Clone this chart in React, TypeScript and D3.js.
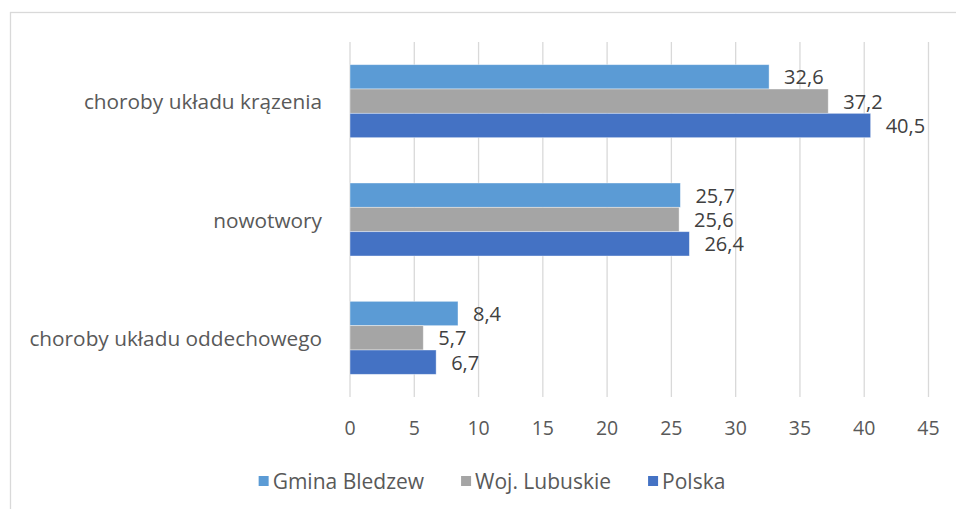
import { useEffect, useRef } from "react";
import { scaleBand, scaleLinear, select } from "d3";

const categories = ["choroby układu krązenia", "nowotwory", "choroby układu oddechowego"];
const seriesNames = ["Gmina Bledzew", "Woj. Lubuskie", "Polska"];
const gminaValues = [32.6, 25.7, 8.4];
const lubuskieValues = [37.2, 25.6, 5.7];
const polskaValues = [40.5, 26.4, 6.7];
const xTicks = [0, 5, 10, 15, 20, 25, 30, 35, 40, 45];

const COLORS = ["#5B9BD5", "#A5A5A5", "#4472C4"];
const TEXT = "#595959";
const GRID = "#D9D9D9";
const FONT = "'Open Sans', sans-serif";

const W = 956;
const H = 509;

export default function App() {
  const svgRef = useRef<SVGSVGElement | null>(null);

  useEffect(() => {
    const svg = select(svgRef.current);
    svg.selectAll("*").remove();

    const series = [gminaValues, lubuskieValues, polskaValues];

    const x = scaleLinear().domain([0, 45]).range([350, 928.5]);
    const y = scaleBand<string>()
      .domain(categories)
      .range([42, 397])
      .paddingInner(0.383)
      .paddingOuter(0.1915);
    const inner = scaleBand<number>()
      .domain([0, 1, 2])
      .range([0, y.bandwidth()]);

    // chart frame
    svg
      .append("rect")
      .attr("x", 10.5)
      .attr("y", 12.5)
      .attr("width", 980)
      .attr("height", 540)
      .attr("fill", "none")
      .attr("stroke", GRID)
      .attr("stroke-width", 1.3);

    // gridlines
    svg
      .append("g")
      .selectAll("line")
      .data(xTicks)
      .join("line")
      .attr("x1", (d) => x(d))
      .attr("x2", (d) => x(d))
      .attr("y1", 42)
      .attr("y2", 397)
      .attr("stroke", GRID)
      .attr("stroke-width", 1.3);

    // tick labels
    svg
      .append("g")
      .selectAll("text")
      .data(xTicks)
      .join("text")
      .attr("x", (d) => x(d))
      .attr("y", 427)
      .attr("text-anchor", "middle")
      .attr("dominant-baseline", "central")
      .attr("font-family", FONT)
      .attr("font-size", 19.5)
      .attr("fill", TEXT)
      .text((d) => d);

    // category labels
    svg
      .append("g")
      .selectAll("text")
      .data(categories)
      .join("text")
      .attr("x", 322)
      .attr("y", (d) => (y(d) ?? 0) + y.bandwidth() / 2)
      .attr("text-anchor", "end")
      .attr("dominant-baseline", "central")
      .attr("font-family", FONT)
      .attr("font-size", 20.8)
      .attr("fill", TEXT)
      .text((d) => d);

    // bars + labels
    series.forEach((values, si) => {
      const g = svg.append("g");
      g.selectAll("rect")
        .data(values)
        .join("rect")
        .attr("x", x(0))
        .attr("y", (_, i) => (y(categories[i]) ?? 0) + (inner(si) ?? 0))
        .attr("width", (d) => x(d) - x(0))
        .attr("height", inner.bandwidth())
        .attr("fill", COLORS[si])
        .attr("stroke", "#ffffff")
        .attr("stroke-opacity", 0.5)
        .attr("stroke-width", 0.8);

      g.selectAll("text")
        .data(values)
        .join("text")
        .attr("x", (d) => x(d) + 15)
        .attr("y", (_, i) => (y(categories[i]) ?? 0) + (inner(si) ?? 0) + inner.bandwidth() / 2)
        .attr("dominant-baseline", "central")
        .attr("font-family", FONT)
        .attr("font-size", 20)
        .attr("fill", "#404040")
        .text((d) => String(d).replace(".", ","));
    });

    // legend, centred
    const legend = svg.append("g");
    const items = seriesNames.map((name, i) => {
      const item = legend.append("g");
      item
        .append("rect")
        .attr("x", 0)
        .attr("y", -5)
        .attr("width", 10)
        .attr("height", 10)
        .attr("fill", COLORS[i]);
      const t = item
        .append("text")
        .attr("x", 14)
        .attr("y", 0)
        .attr("dominant-baseline", "central")
        .attr("font-family", FONT)
        .attr("font-size", 21)
        .attr("fill", TEXT)
        .text(name);
      const w = 14 + ((t.node() as SVGTextElement).getComputedTextLength?.() ?? 120);
      return { item, w };
    });
    const gap = 37;
    const total = items.reduce((s, it) => s + it.w, 0) + gap * (items.length - 1);
    let cx = 492 - total / 2;
    items.forEach((it) => {
      it.item.attr("transform", `translate(${cx},481)`);
      cx += it.w + gap;
    });
  }, []);

  return (
    <svg
      ref={svgRef}
      width={W}
      height={H}
      style={{ position: "fixed", left: 0, top: 0, background: "#fff" }}
    />
  );
}
